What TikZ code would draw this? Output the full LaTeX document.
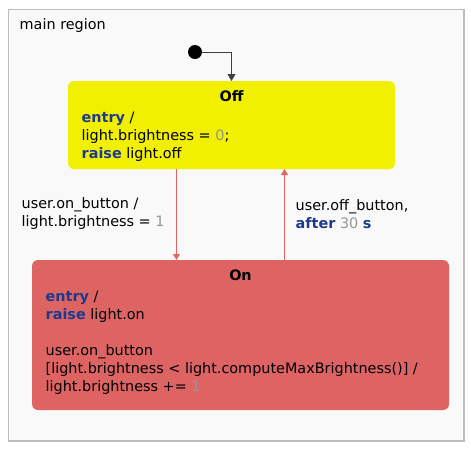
\documentclass[tikz,border=0pt]{standalone}
\usepackage{fontspec}
\setmainfont{DejaVu Sans}
\usetikzlibrary{arrows.meta}
\definecolor{regionfill}{HTML}{F9F9F9}
\definecolor{regionline}{HTML}{BDBDBD}
\definecolor{offyellow}{HTML}{F0F000}
\definecolor{onred}{HTML}{DE6464}
\definecolor{transred}{HTML}{E06666}
\definecolor{initgray}{HTML}{404040}
\definecolor{kwblue}{HTML}{1E3A8C}
\definecolor{numgray}{HTML}{969696}
\newcommand{\kw}[1]{\textbf{\textcolor{kwblue}{#1}}}
\newcommand{\numlit}[1]{\textcolor{numgray}{#1}}

\begin{document}
\begin{tikzpicture}[x=1pt,y=-1pt,
    every node/.style={font=\fontsize{14.4}{18}\selectfont},
    state/.style={rounded corners=6pt, inner sep=0pt, outer sep=0pt, anchor=north west},
    title/.style={inner sep=0pt, anchor=base, font=\fontsize{14.4}{18}\selectfont\bfseries},
    txt/.style={inner sep=0pt, anchor=base west, align=left},
    trans/.style={draw=transred, line width=1pt, -{Triangle[length=6pt,width=7pt]}, color=transred}]
  \useasboundingbox (0,0) rectangle (471,451);
  % region
  \draw[draw=regionline, fill=regionfill, line width=1.2pt] (8.5,9.5) rectangle (464,441);
  \node[txt] (regname) at (19.5,29) {main region};
  % states
  \node[state, fill=offyellow, minimum width=327pt, minimum height=88pt] (off) at (68,81) {};
  \node[state, fill=onred, minimum width=417pt, minimum height=150pt] (on) at (32,260) {};
  \node[title] (offtitle) at (231.5,101) {Off};
  \node[title] (ontitle) at (240.5,280) {On};
  % base = last line
  \node[txt] (offbody) at (81.5,158) {\kw{entry} /\\light.brightness = \numlit{0};\\\kw{raise} light.off};
  \node[txt] (onbody) at (45.5,391) {\kw{entry} /\\\kw{raise} light.on\\[18pt]user.on\_button\\{}[light.brightness < light.computeMaxBrightness()] /\\light.brightness += \numlit{1}};
  % initial
  \node[circle, fill=black, minimum size=14pt, inner sep=0pt] (init) at (195,52) {};
  \draw[initgray, line width=1pt, -{Triangle[length=7pt,width=8pt]}] (init.east) -| (off.north);
  % transitions
  \coordinate (dn) at (176.5,0);
  \coordinate (up) at (284.5,0);
  \draw[trans] (off.south -| dn) -- (on.north -| dn);
  \draw[trans] (on.north -| up) -- (off.south -| up);
  \node[txt] (onlabel) at (21.5,226) {user.on\_button /\\light.brightness = \numlit{1}};
  \node[txt] (offlabel) at (295.5,228) {user.off\_button,\\\kw{after} \numlit{30} \kw{s}};
\end{tikzpicture}
\end{document}
